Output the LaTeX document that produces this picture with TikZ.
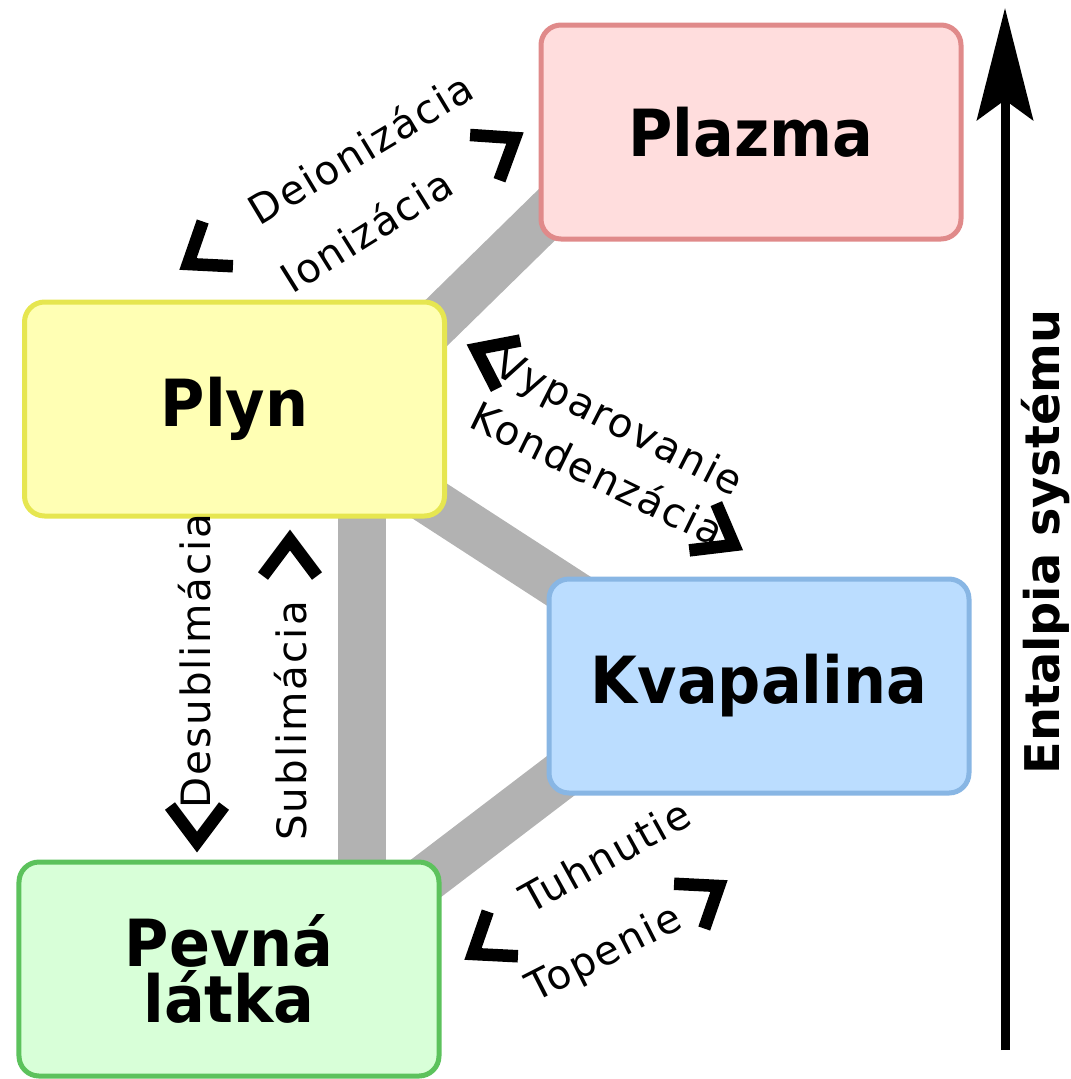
\documentclass[tikz,border=0pt]{standalone}
\usepackage{fontspec}
\setmainfont{DejaVu Sans}
\newfontfamily\boxfont[FakeStretch=0.93]{DejaVu Sans}
\newfontfamily\labfont[LetterSpace=5]{DejaVu Sans}
\usepackage[usenames,dvipsnames]{xcolor}
\usetikzlibrary{calc,arrows.meta,backgrounds}

\definecolor{plazmafill}{HTML}{FFDDDD}
\definecolor{plazmaline}{HTML}{E08A8A}
\definecolor{plynfill}{HTML}{FFFFB4}
\definecolor{plynline}{HTML}{E6E650}
\definecolor{kvapfill}{HTML}{BBDDFF}
\definecolor{kvapline}{HTML}{88B6E4}
\definecolor{pevnafill}{HTML}{D8FFD8}
\definecolor{pevnaline}{HTML}{5CC25C}

\tikzset{
  phase/.style = {draw, rectangle, line width = 0.05cm, minimum height = 2.14cm, minimum width = 4.2cm,
    font = \boxfont\bfseries\fontsize{18.5}{14.2}\selectfont, align = center},
  band/.style = {line width = 0.48cm, black!30, sharp corners},
  lab/.style = {font = \labfont\fontsize{11.5}{13}\selectfont, inner sep = 0pt},
  chev/.pic = {\draw [line width = 0.125cm, sharp corners] (-0.36,0.27) -- (0,0) -- (-0.36,-0.27);}
}

\begin{document}
\begin{tikzpicture}[rounded corners = 0.2cm]
  \useasboundingbox (0,0) rectangle (10.70,-10.79);

  % the four phases
  \node [phase, fill = plazmafill, draw = plazmaline] (plazma) at (7.51,-1.32) {Plazma};
  \node [phase, fill = plynfill, draw = plynline] (plyn) at (2.345,-4.09) {Plyn};
  \node [phase, fill = kvapfill, draw = kvapline] (kvap) at (7.59,-6.86) {Kvapalina};
  \node [phase, fill = pevnafill, draw = pevnaline] (pevna) at (2.29,-9.69) {Pevná\\látka};

  % band ends, hidden inside the boxes
  \coordinate (ionA) at ($(plyn.north east)+(-0.96,-1.07)$);
  \coordinate (ionB) at ($(plazma.south west)+(0.275,0.455)$);
  \coordinate (vypA) at ($(plyn.south east)+(-1.33,0.925)$);
  \coordinate (vypB) at ($(kvap.north west)+(0.605,-0.395)$);
  \coordinate (topA) at ($(pevna.north east)+(-1.135,-0.935)$);
  \coordinate (topB) at ($(kvap.south west)+(0.585,0.535)$);
  \coordinate (subA) at ($(plyn.south east)+(-0.85,0.3)$);
  \begin{scope}[on background layer]
    \draw [band] (ionA) -- (ionB);
    \draw [band] (vypA) -- (vypB);
    \draw [band] (topA) -- (topB);
    \draw [band] (subA) -- ($(subA |- pevna.north)+(0,-0.3)$);
  \end{scope}

  % transitions
  \node [lab, rotate = 31] (deion) at (3.60,-1.48) {Deionizácia};
  \node [lab, rotate = 32] (ion) at (3.66,-2.30) {Ionizácia};
  \pic [rotate = 214] at (1.88,-2.64) {chev};
  \pic [rotate = 33] at (5.15,-1.38) {chev};

  \node [lab, rotate = -27] (vypar) at (6.18,-4.25) {Vyparovanie};
  \node [lab, rotate = -26] (konden) at (5.98,-4.73) {Kondenzácia};
  \pic [rotate = 154] at (4.76,-3.49) {chev};
  \pic [rotate = -30] at (7.34,-5.45) {chev};

  \node [lab, rotate = 90] (desub) at (1.95,-6.61) {Desublimácia};
  \node [lab, rotate = 90] (sub) at (2.91,-7.21) {Sublimácia};
  \pic [rotate = -90] at (1.97,-8.42) {chev};
  \pic [rotate = 90] at (2.90,-5.40) {chev};

  \node [lab, rotate = 29] (tuhn) at (6.05,-8.56) {Tuhnutie};
  \node [lab, rotate = 27] (topen) at (6.05,-9.55) {Topenie};
  \pic [rotate = 214] at (4.73,-9.54) {chev};
  \pic [rotate = 34] at (7.19,-8.86) {chev};

  % enthalpy axis
  \coordinate (axbot) at (10.05,-10.50);
  \coordinate (axtop) at (10.05,-0.08);
  \draw [line width = 0.09cm, -{Stealth[length = 1.12cm, width = 0.56cm, inset = 0.2cm]}] (axbot) -- (axtop);
  \node [font = \bfseries\fontsize{13.6}{16}\selectfont, rotate = 90, inner sep = 0pt] (entalpia) at (10.46,-5.42) {Entalpia systému};
\end{tikzpicture}
\end{document}
